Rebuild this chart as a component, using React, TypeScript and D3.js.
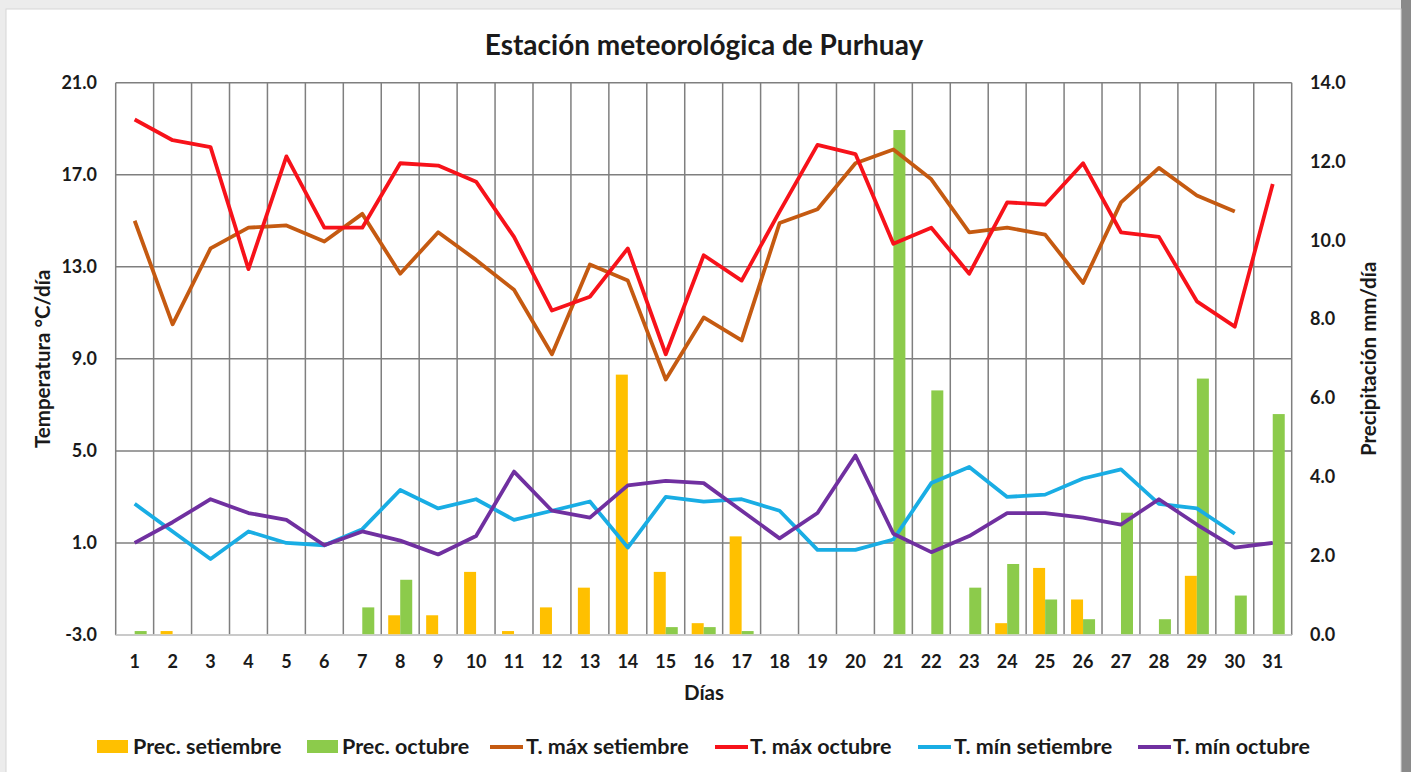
import React from 'react';
import * as d3 from 'd3';

// dias del mes (categorias del eje x)
const DAYS = ['1', '2', '3', '4', '5', '6', '7', '8', '9', '10', '11', '12', '13', '14', '15', '16',
  '17', '18', '19', '20', '21', '22', '23', '24', '25', '26', '27', '28', '29', '30', '31'];

// precipitacion mm/dia (setiembre tiene 30 dias)
const PREC_SET = [0, 0.1, 0, 0, 0, 0, 0, 0.5, 0.5, 1.6, 0.1, 0.7, 1.2, 6.6, 1.6, 0.3, 2.5, 0, 0, 0,
  0, 0, 0, 0.3, 1.7, 0.9, 0, 0, 1.5, 0];
const PREC_OCT = [0.1, 0, 0, 0, 0, 0, 0.7, 1.4, 0, 0, 0, 0, 0, 0, 0.2, 0.2, 0.1, 0, 0, 0,
  12.8, 6.2, 1.2, 1.8, 0.9, 0.4, 3.1, 0.4, 6.5, 1.0, 5.6];

// temperaturas °C
const TMAX_SET = [15.0, 10.5, 13.8, 14.7, 14.8, 14.1, 15.3, 12.7, 14.5, 13.3, 12.0, 9.2, 13.1, 12.4, 8.1,
  10.8, 9.8, 14.9, 15.5, 17.5, 18.1, 16.8, 14.5, 14.7, 14.4, 12.3, 15.8, 17.3, 16.1, 15.4];
const TMAX_OCT = [19.4, 18.5, 18.2, 12.9, 17.8, 14.7, 14.7, 17.5, 17.4, 16.7, 14.3, 11.1, 11.7, 13.8, 9.2,
  13.5, 12.4, 15.4, 18.3, 17.9, 14.0, 14.7, 12.7, 15.8, 15.7, 17.5, 14.5, 14.3, 11.5, 10.4, 16.6];
const TMIN_SET = [2.7, 1.5, 0.3, 1.5, 1.0, 0.9, 1.6, 3.3, 2.5, 2.9, 2.0, 2.4, 2.8, 0.8, 3.0,
  2.8, 2.9, 2.4, 0.7, 0.7, 1.15, 3.6, 4.3, 3.0, 3.1, 3.8, 4.2, 2.7, 2.5, 1.4];
const TMIN_OCT = [1.0, 1.9, 2.9, 2.3, 2.0, 0.9, 1.5, 1.1, 0.5, 1.3, 4.1, 2.4, 2.1, 3.5, 3.7,
  3.6, 2.4, 1.2, 2.3, 4.8, 1.4, 0.6, 1.3, 2.3, 2.3, 2.1, 1.8, 2.9, 1.8, 0.8, 1.0];

const TEMP_TICKS = [-3, 1, 5, 9, 13, 17, 21];
const PREC_TICKS = [0, 2, 4, 6, 8, 10, 12, 14];

const W = 1411;
const H = 772;
const FONT = 'Lato, "Open Sans", sans-serif';

const plot = { left: 115.7, right: 1291.7, top: 82.7, bottom: 635 };

const App = () => {
  const x = d3.scaleBand<string>().domain(DAYS).range([plot.left, plot.right]);
  const xSub = d3.scaleBand<string>()
    .domain(['set', 'oct'])
    .range([0, x.bandwidth()])
    .paddingOuter(0.58);
  const yT = d3.scaleLinear().domain([-3, 21]).range([plot.bottom, plot.top]);
  const yP = d3.scaleLinear().domain([0, 14]).range([plot.bottom, plot.top]);

  const cx = (i: number) => (x(DAYS[i]) as number) + x.bandwidth() / 2;
  const line = d3.line<number>().x((_, i) => cx(i)).y((d) => yT(d));

  const lines = [
    { name: 'T. máx setiembre', data: TMAX_SET, color: '#C55A11' },
    { name: 'T. máx octubre', data: TMAX_OCT, color: '#F7121A' },
    { name: 'T. mín setiembre', data: TMIN_SET, color: '#19ADE4' },
    { name: 'T. mín octubre', data: TMIN_OCT, color: '#7030A0' },
  ];
  const bars = [
    { key: 'set', name: 'Prec. setiembre', data: PREC_SET, color: '#FFC000' },
    { key: 'oct', name: 'Prec. octubre', data: PREC_OCT, color: '#8CCB4B' },
  ];

  // legend positions
  const legend = [
    { type: 'rect', x: 97, tx: 133, ...bars[0] },
    { type: 'rect', x: 307, tx: 342, ...bars[1] },
    { type: 'line', x: 490, tx: 526, ...lines[0] },
    { type: 'line', x: 715, tx: 750, ...lines[1] },
    { type: 'line', x: 918, tx: 954, ...lines[2] },
    { type: 'line', x: 1138, tx: 1173, ...lines[3] },
  ];
  const legendY = 747;

  return (
    <svg width={W} height={H} style={{ position: 'absolute', left: 0, top: 0 }} fontFamily={FONT}>
      <rect x={0} y={0} width={W} height={H} fill="#ececec" />
      <rect x={1401} y={0} width={10} height={H} fill="#8a8a8a" />
      <rect x={6} y={9} width={1395} height={H} fill="#fff" stroke="#d6d6d6" />

      <text x={704} y={55} textAnchor="middle" fontSize={28} fontWeight={700} fill="#1a1a1a">
        Estación meteorológica de Purhuay
      </text>

      {/* grid */}
      <g stroke="#7f7f7f" strokeWidth={1.5}>
        {TEMP_TICKS.map((t) => (
          <line key={t} x1={plot.left} x2={plot.right} y1={yT(t)} y2={yT(t)} />
        ))}
        {DAYS.map((d) => (
          <line key={d} x1={x(d)} x2={x(d)} y1={plot.top} y2={plot.bottom} />
        ))}
        <line x1={plot.right} x2={plot.right} y1={plot.top} y2={plot.bottom} />
      </g>

      {/* bars */}
      {bars.map((b) => (
        <g key={b.key} fill={b.color}>
          {b.data.map((v, i) =>
            v > 0 ? (
              <rect
                key={i}
                x={(x(DAYS[i]) as number) + (xSub(b.key) as number)}
                y={yP(v)}
                width={xSub.bandwidth()}
                height={yP(0) - yP(v)}
              />
            ) : null
          )}
        </g>
      ))}
      <line x1={plot.left} x2={plot.right} y1={plot.bottom} y2={plot.bottom} stroke="#d9d9d9" strokeWidth={1.3} />

      {/* lines */}
      {lines.map((l) => (
        <path key={l.name} d={line(l.data) as string} fill="none" stroke={l.color} strokeWidth={3.8} strokeLinejoin="round" />
      ))}

      {/* tick labels */}
      <g fontSize={18} fontWeight={700} fill="#1a1a1a">
        {TEMP_TICKS.map((t) => (
          <text key={t} x={97} y={yT(t) + 6} textAnchor="end">{t.toFixed(1)}</text>
        ))}
        {PREC_TICKS.map((t) => (
          <text key={t} x={1310} y={yP(t) + 6}>{t.toFixed(1)}</text>
        ))}
        {DAYS.map((d) => (
          <text key={d} x={(x(d) as number) + x.bandwidth() / 2} y={668} textAnchor="middle">{d}</text>
        ))}
      </g>
      <g fontSize={20.5} fontWeight={700} fill="#1a1a1a">
        <text transform={`translate(50,${(plot.top + plot.bottom) / 2}) rotate(-90)`} textAnchor="middle">
          Temperatura °C/día
        </text>
        <text transform={`translate(1376,${(plot.top + plot.bottom) / 2}) rotate(-90)`} textAnchor="middle">
          Precipitación mm/día
        </text>
        <text x={704} y={700} textAnchor="middle">Días</text>
      </g>

      {/* legend */}
      <g fontSize={21.5} fontWeight={700} fill="#1a1a1a">
        {legend.map((it) => (
          <g key={it.name}>
            {it.type === 'rect' ? (
              <rect x={it.x} y={legendY - 7} width={31} height={13} fill={it.color} />
            ) : (
              <line x1={it.x} x2={it.x + 33} y1={legendY} y2={legendY} stroke={it.color} strokeWidth={3.8} />
            )}
            <text x={it.tx} y={legendY + 7}>{it.name}</text>
          </g>
        ))}
      </g>
    </svg>
  );
};

export default App;
